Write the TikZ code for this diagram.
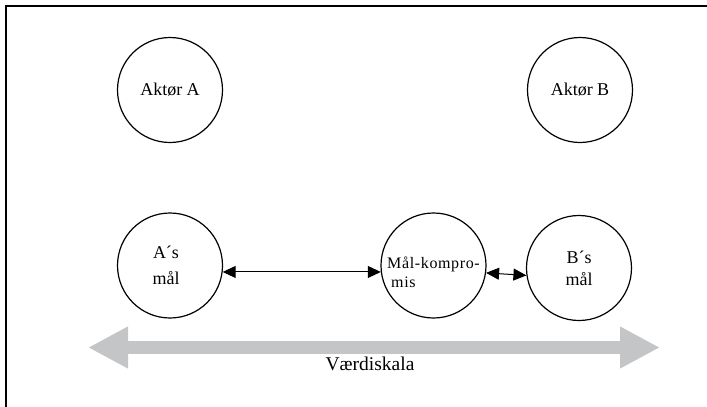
\documentclass[tikz,border=0pt]{standalone}
\usepackage{fontspec}
\setmainfont{Liberation Serif}
\usetikzlibrary{arrows.meta}
\definecolor{scalegray}{RGB}{196,197,199}
\begin{document}
\begin{tikzpicture}[x=1pt,y=-1pt,
  actor/.style={circle,draw,line width=1.2pt,minimum size=105pt,inner sep=0pt,
    align=center,font=\fontsize{18}{22}\selectfont},
  link/.style={line width=1pt,{Triangle[length=13pt,width=12pt]}-{Triangle[length=13pt,width=12pt]}},
  scale arrow/.style={line width=13pt,draw=scalegray,
    {Triangle[length=40pt,width=39pt]}-{Triangle[length=40pt,width=39pt]}}]
  \useasboundingbox (0,0) rectangle (707,407);
  \clip (0,0) rectangle (707,407);
  % open frame: only the top and left edges fall inside the page
  \draw[line width=2pt] (6,420) -- (6,5.5) -- (720,5.5);

  % actors
  \node[actor] (aa) at (170,90) {Aktør A};
  \node[actor] (ab) at (580,90) {Aktør B};

  % goals and the compromise
  \node[actor,font=\fontsize{18}{26}\selectfont] (ga) at (170,265.5) {\hspace*{-8pt}A´s\\\hspace*{-8pt}mål};
  \node[actor,font=\fontsize{16}{19}\selectfont\addfontfeature{LetterSpace=4},align=left] (mk) at (433.5,265.5) {\rule{0pt}{26pt}Mål-kompro-\\\hspace*{4pt}mis};
  \node[actor,font=\fontsize{18}{22}\selectfont] (gb) at (579,268) {B´s\\mål};

  % links between goals
  \draw[link] (ga.-7) -- (mk.187);
  \draw[link] (mk.-8) -- (gb.188);

  % value scale
  \coordinate (sl) at (88,347.5);
  \coordinate (sr) at (660,347.5);
  \draw[scale arrow] (sl) -- (sr);
  \node[font=\fontsize{19.5}{22}\selectfont] (vs) at (370,364) {Værdiskala};
\end{tikzpicture}
\end{document}
